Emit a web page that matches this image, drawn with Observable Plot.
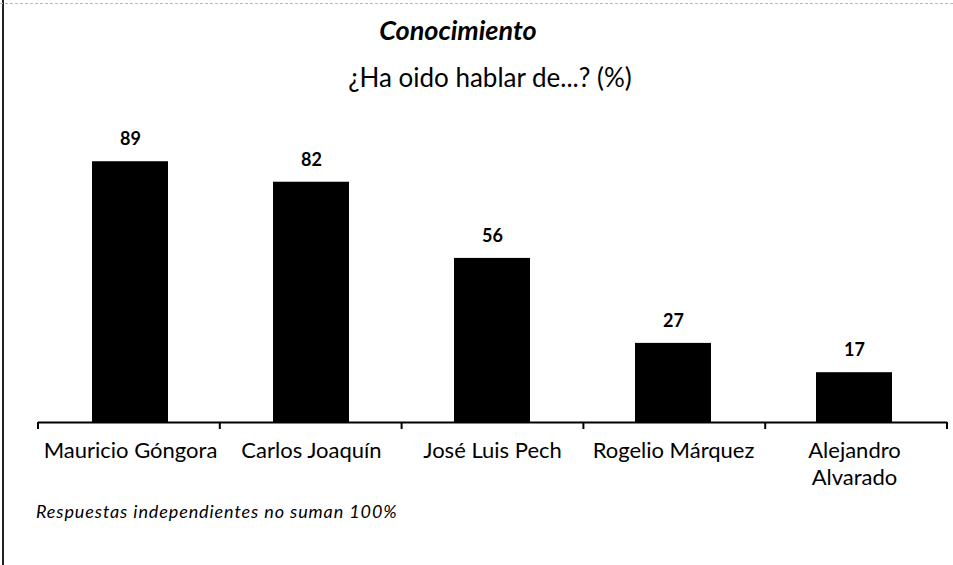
<!DOCTYPE html>
<html>
<head>
<meta charset="utf-8">
<script src="https://cdn.jsdelivr.net/npm/d3@7"></script>
<script src="https://cdn.jsdelivr.net/npm/@observablehq/plot@0.6"></script>
<style>
  html, body { margin: 0; padding: 0; background: #fff; }
  #wrap { position: relative; width: 953px; height: 565px; overflow: hidden; font-family: Lato, "Open Sans", sans-serif; color: #000; }
  #wrap svg { position: absolute; left: 0; top: 0; }
  .title { position: absolute; left: 258px; width: 400px; text-align: center; top: 13px; font-size: 27px; line-height: 34px; font-weight: bold; font-style: italic; }
  .subtitle { position: absolute; left: 290px; width: 400px; text-align: center; top: 60px; font-size: 26px; line-height: 34px; }
  .caption { position: absolute; left: 36px; top: 500px; font-size: 18px; line-height: 22px; font-style: italic; letter-spacing: 0.9px; }
  .lborder { position: absolute; left: 2px; top: 0; width: 2px; height: 565px; background: #222; }
  .tborder { position: absolute; left: 0; top: 3px; width: 953px; height: 0; border-top: 1px dashed #bbb; }
</style>
</head>
<body>
<div id="wrap">
  <div class="lborder"></div>
  <div class="tborder"></div>
</div>
<script>
const categories = ["Mauricio Góngora", "Carlos Joaquín", "José Luis Pech", "Rogelio Márquez", "Alejandro Alvarado"];
const values = [89, 82, 56, 27, 17];
const tickLabels = ["Mauricio Góngora", "Carlos Joaquín", "José Luis Pech", "Rogelio Márquez", "Alejandro\nAlvarado"];
const titleText = "Conocimiento";
const subtitleText = "¿Ha oido hablar de...? (%)";
const captionText = "Respuestas independientes no suman 100%";

const data = categories.map((c, i) => ({name: c, value: values[i]}));

const boundaryTicks = (index, scales, values, dims) => {
  const g = d3.create("svg:g");
  const n = categories.length;
  const x0 = dims.marginLeft, x1 = dims.width - dims.marginRight;
  const y0 = scales.y(0);
  for (let i = 0; i <= n; i++) {
    const xx = x0 + i * (x1 - x0) / n;
    g.append("line").attr("x1", xx).attr("x2", xx).attr("y1", y0).attr("y2", y0 + 7)
      .attr("stroke", "#000").attr("stroke-width", 2);
  }
  return g.node();
};

const chart = Plot.plot({
  width: 953,
  height: 565,
  marginTop: 129,
  marginBottom: 143,
  marginLeft: 38,
  marginRight: 6,
  style: {fontFamily: "Lato, 'Open Sans', sans-serif", color: "#000", background: "transparent"},
  x: {domain: categories, paddingInner: 0.58, paddingOuter: 0.29},
  y: {domain: [0, 100], axis: null},
  marks: [
    Plot.barY(data, {x: "name", y: "value", fill: "#000"}),
    Plot.ruleY([0], {stroke: "#000", strokeWidth: 2}),
    boundaryTicks,
    Plot.text(data, {x: "name", y: "value", text: d => String(d.value), dy: -22, fontSize: 18, fontWeight: "bold", fill: "#000"}),
    Plot.axisX({tickSize: 0, tickPadding: 17, fontSize: 22, label: null, lineHeight: 1.2,
      tickFormat: d => tickLabels[categories.indexOf(d)], fill: "#000"})
  ]
});

const wrap = document.getElementById("wrap");
wrap.appendChild(chart);
const t = document.createElement("div"); t.className = "title"; t.textContent = titleText; wrap.appendChild(t);
const s = document.createElement("div"); s.className = "subtitle"; s.textContent = subtitleText; wrap.appendChild(s);
const c = document.createElement("div"); c.className = "caption"; c.textContent = captionText; wrap.appendChild(c);
</script>
</body>
</html>
